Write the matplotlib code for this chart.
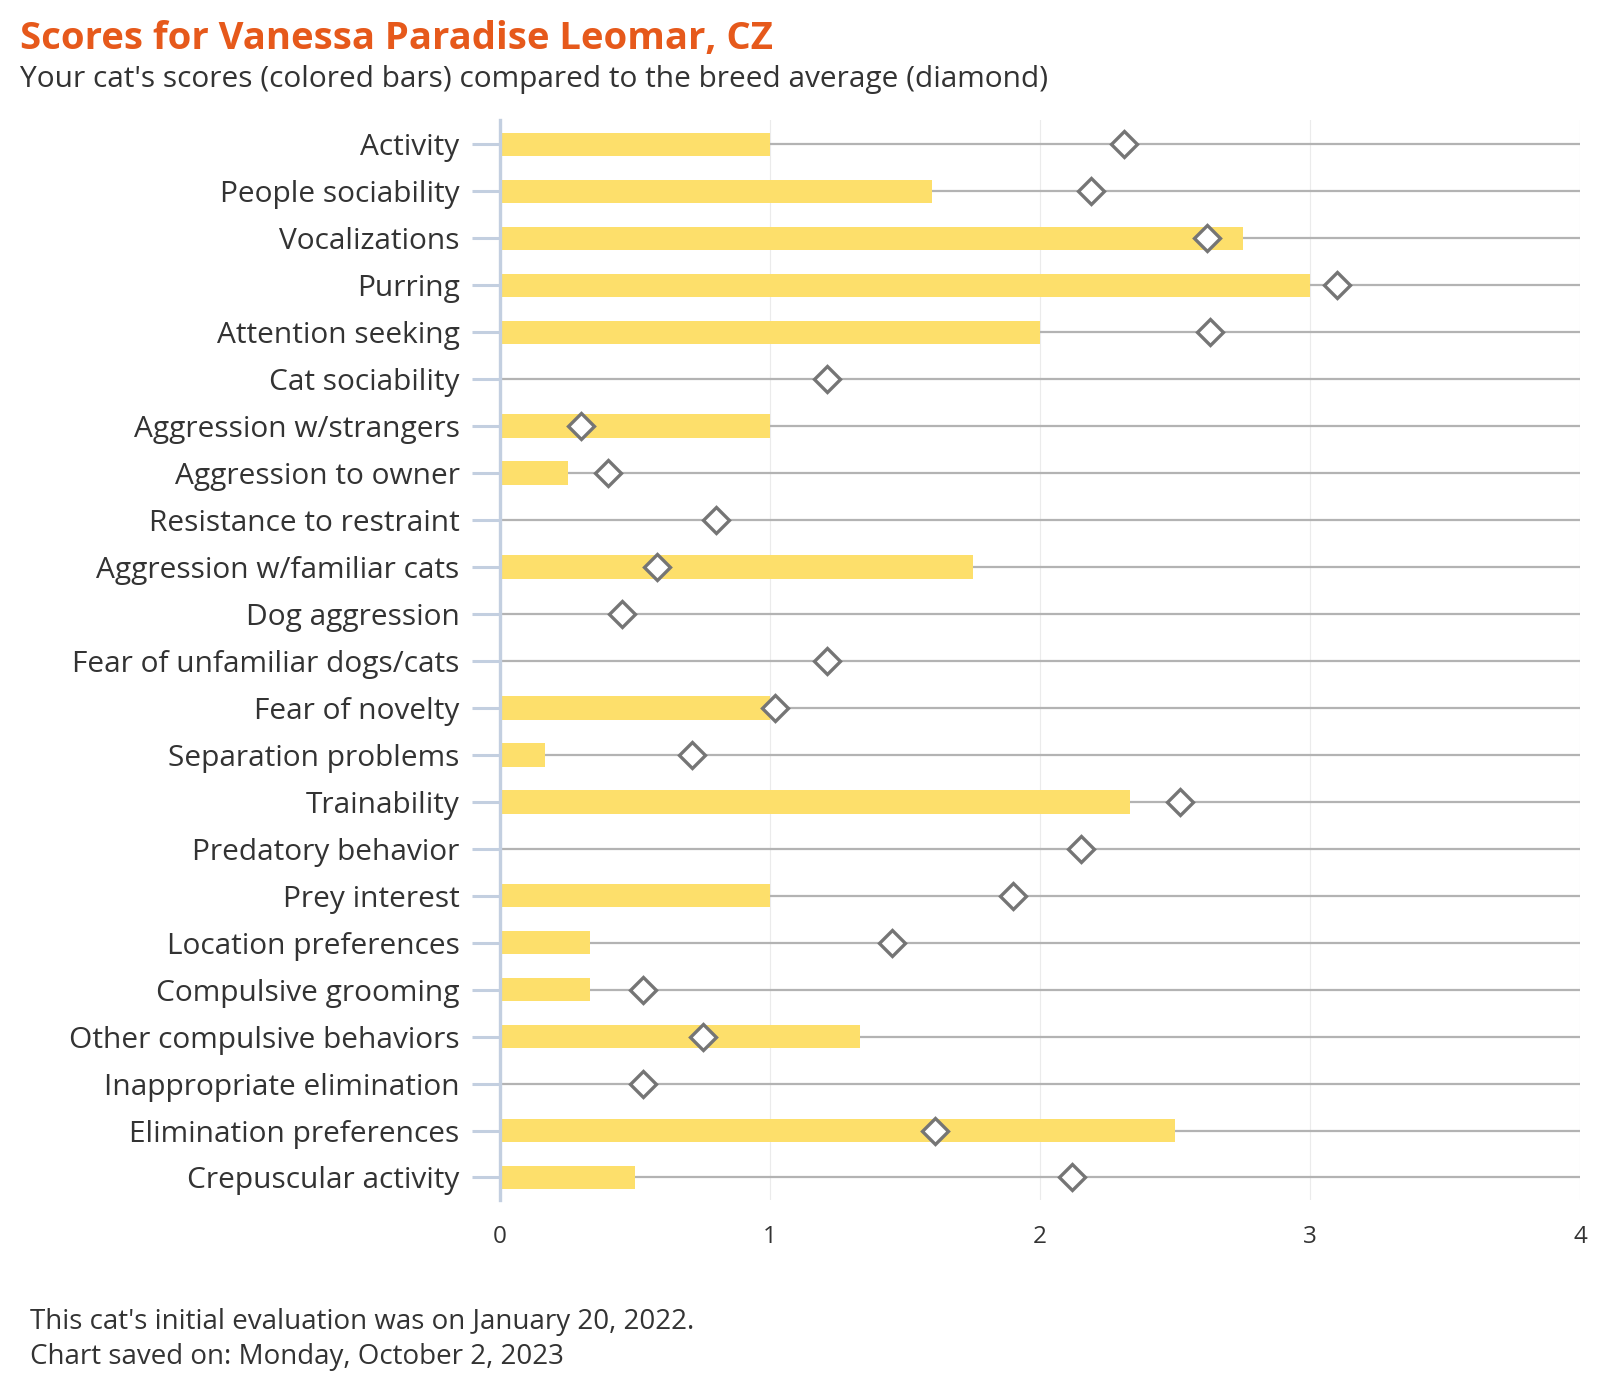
import numpy as np
import matplotlib
matplotlib.use("Agg")
import matplotlib.pyplot as plt

plt.rcParams["font.family"] = ["Open Sans", "DejaVu Sans"]

# Données
categories = [
    "Activity", "People sociability", "Vocalizations", "Purring",
    "Attention seeking", "Cat sociability", "Aggression w/strangers",
    "Aggression to owner", "Resistance to restraint",
    "Aggression w/familiar cats", "Dog aggression",
    "Fear of unfamiliar dogs/cats", "Fear of novelty",
    "Separation problems", "Trainability", "Predatory behavior",
    "Prey interest", "Location preferences", "Compulsive grooming",
    "Other compulsive behaviors", "Inappropriate elimination",
    "Elimination preferences", "Crepuscular activity",
]
cat_scores = [1.0, 1.6, 2.75, 3.0, 2.0, 0.0, 1.0, 0.25, 0.0, 1.75, 0.0,
              0.0, 1.0, 0.167, 2.333, 0.0, 1.0, 0.333, 0.333, 1.333, 0.0,
              2.5, 0.5]
breed_avg = [2.31, 2.19, 2.62, 3.10, 2.63, 1.21, 0.30, 0.40, 0.80, 0.58,
             0.45, 1.21, 1.02, 0.71, 2.52, 2.15, 1.90, 1.45, 0.53, 0.75,
             0.53, 1.61, 2.12]
x_ticks = [0, 1, 2, 3, 4]

title = "Scores for Vanessa Paradise Leomar, CZ"
subtitle = "Your cat's scores (colored bars) compared to the breed average (diamond)"
footer = ["This cat's initial evaluation was on January 20, 2022.",
          "Chart saved on: Monday, October 2, 2023"]

n = len(categories)
y = np.arange(n)

fig = plt.figure(figsize=(16, 14), dpi=100)
ax = fig.add_axes([500 / 1600, 1 - 1200 / 1400, 1080 / 1600, 1080 / 1400])

# lignes horizontales par catégorie
for yi in y:
    ax.plot([0, 4], [yi, yi], color="#b3b3b3", lw=1.6, zorder=1)

ax.barh(y, cat_scores, height=0.5, color="#fddf6b", zorder=2)
ax.plot(breed_avg, y, ls="none", marker="D", ms=13, mfc="white",
        mec="#757575", mew=2.4, zorder=3)

ax.set_xlim(0, 4)
ax.set_ylim(n - 0.52, -0.52)
ax.set_xticks(x_ticks)
ax.set_xticklabels([str(t) for t in x_ticks], fontsize=17.5, color="#333333")
ax.set_yticks(y)
ax.set_yticklabels(categories, fontsize=21.5, color="#333333")
ax.tick_params(axis="y", length=20, width=2.2, color="#c3cfe0", pad=9)
ax.tick_params(axis="x", length=0, pad=18)
ax.xaxis.grid(True, color="#ebebeb", lw=0.8, zorder=0)
ax.set_axisbelow(True)
for s in ["top", "right", "bottom"]:
    ax.spines[s].set_visible(False)
ax.spines["left"].set_color("#c3cfe0")
ax.spines["left"].set_linewidth(2.4)
ax.spines["left"].set_zorder(4)

fig.text(20 / 1600, 1 - 39 / 1400, title, fontsize=27.5, fontweight="bold",
         color="#e6591b", va="center")
fig.text(20 / 1600, 1 - 80 / 1400, subtitle, fontsize=21.5, color="#333333",
         va="center")
fig.text(30 / 1600, 1 - 1322 / 1400, footer[0], fontsize=20, color="#333333",
         va="center")
fig.text(30 / 1600, 1 - 1357 / 1400, footer[1], fontsize=20, color="#333333",
         va="center")

fig.savefig("out.png", dpi=100, facecolor="white")
